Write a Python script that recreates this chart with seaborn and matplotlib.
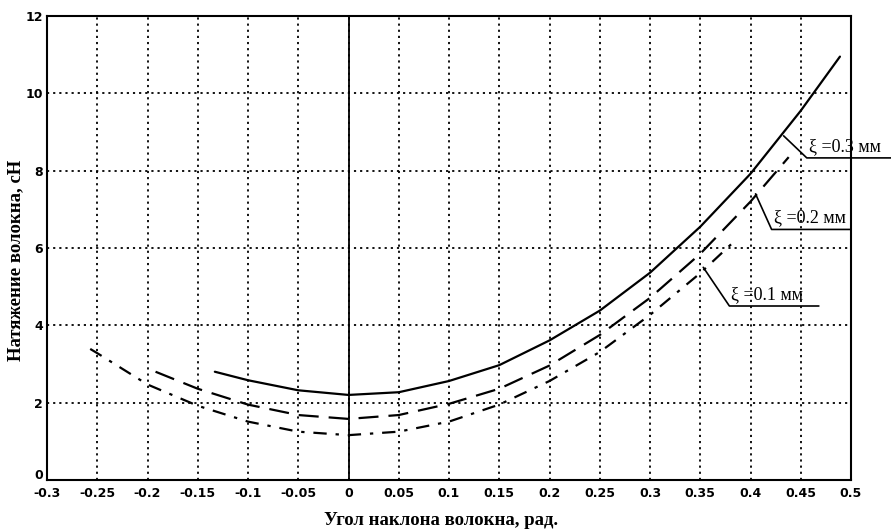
import seaborn as sns
import matplotlib.pyplot as plt
import matplotlib.transforms as mtransforms
import pandas as pd

# ξ = 0.3 мм (solid)
x_03 = [-0.133, -0.1, -0.05, 0.0, 0.05, 0.1, 0.15, 0.2, 0.25, 0.3, 0.35, 0.4, 0.45, 0.489]
y_03 = [2.80, 2.58, 2.32, 2.20, 2.27, 2.56, 2.97, 3.61, 4.38, 5.36, 6.55, 7.92, 9.55, 10.95]
# ξ = 0.2 мм (dashed)
x_02 = [-0.192, -0.15, -0.1, -0.05, 0.0, 0.05, 0.1, 0.15, 0.2, 0.25, 0.3, 0.35, 0.4, 0.438]
y_02 = [2.80, 2.36, 1.95, 1.68, 1.58, 1.68, 1.97, 2.36, 2.96, 3.75, 4.71, 5.85, 7.20, 8.35]
# ξ = 0.1 мм (dash-dot)
x_01 = [-0.257, -0.25, -0.2, -0.15, -0.1, -0.05, 0.0, 0.05, 0.1, 0.15, 0.2, 0.25, 0.3, 0.35, 0.385]
y_01 = [3.39, 3.28, 2.47, 1.92, 1.51, 1.25, 1.16, 1.25, 1.51, 1.95, 2.56, 3.31, 4.27, 5.35, 6.20]

x_ticks = [-0.3, -0.25, -0.2, -0.15, -0.1, -0.05, 0, 0.05, 0.1, 0.15, 0.2, 0.25, 0.3, 0.35, 0.4, 0.45, 0.5]
x_ticklabels = ['-0.3', '-0.25', '-0.2', '-0.15', '-0.1', '-0.05', '0', '0.05', '0.1', '0.15',
                '0.2', '0.25', '0.3', '0.35', '0.4', '0.45', '0.5']
y_ticks = [0, 2, 4, 6, 8, 10, 12]

labels = ['ξ =0.3 мм', 'ξ =0.2 мм', 'ξ =0.1 мм']

sns.set_theme(style='white')
plt.rcParams['font.family'] = ['Liberation Serif', 'DejaVu Serif']

fig = plt.figure(figsize=(8.91, 5.31), dpi=100)
ax = fig.add_axes([47 / 891, 51 / 531, 804 / 891, 464 / 531])

df03 = pd.DataFrame({'x': x_03, 'y': y_03})
df02 = pd.DataFrame({'x': x_02, 'y': y_02})
df01 = pd.DataFrame({'x': x_01, 'y': y_01})

sns.lineplot(data=df03, x='x', y='y', ax=ax, color='black', lw=1.6, sort=False)
l2 = sns.lineplot(data=df02, x='x', y='y', ax=ax, color='black', lw=1.6, sort=False).lines[-1]
l2.set_dashes([9, 4.5])
l1 = sns.lineplot(data=df01, x='x', y='y', ax=ax, color='black', lw=1.6, sort=False).lines[-1]
l1.set_dashes([6, 4, 1.5, 4])

ax.axvline(0, color='black', lw=1.3, zorder=1)

ax.set_xlim(-0.3, 0.5)
ax.set_ylim(0, 12)
ax.set_xticks(x_ticks)
ax.set_xticklabels(x_ticklabels)
ax.set_yticks(y_ticks)
ax.grid(True, color='black', linestyle=(0, (1.2, 2.2)), linewidth=1.3)
ax.set_axisbelow(True)
for s in ax.spines.values():
    s.set_color('black')
    s.set_linewidth(1.5)
ax.tick_params(axis='x', length=0, pad=5)
ax.tick_params(axis='y', length=0, pad=3)
for t in ax.get_xticklabels() + ax.get_yticklabels():
    t.set_family('Liberation Sans Narrow')
    t.set_fontweight('bold')
    t.set_fontsize(9)
    t.set_color('black')
# lift the "0" of the y axis a little so it sits above "-0.3"
y0 = ax.get_yticklabels()[0]
y0.set_transform(y0.get_transform() + mtransforms.ScaledTranslation(0, 4 / 72, fig.dpi_scale_trans))

ax.set_xlabel('Угол наклона волокна, рад.', fontsize=13.5, fontweight='bold', color='black')
ax.set_ylabel('Натяжение волокна, сН', fontsize=13.5, fontweight='bold', color='black')
ax.xaxis.set_label_coords(0.49, -0.07)
ax.yaxis.set_label_coords(-0.028, 0.473)

# leader lines with labels
leaders = [
    ([0.433, 0.456, 0.54], [8.9, 8.33, 8.33]),
    ([0.405, 0.421, 0.50], [7.4, 6.48, 6.48]),
    ([0.353, 0.379, 0.468], [5.5, 4.5, 4.5]),
]
for (lx, ly), lab in zip(leaders, labels):
    ax.plot(lx, ly, color='black', lw=1.2, clip_on=False)
    ax.text(lx[1] + 0.002, ly[-1] + 0.08, lab, ha='left', va='bottom', fontsize=13, color='black')

fig.savefig('out.png', dpi=100)
